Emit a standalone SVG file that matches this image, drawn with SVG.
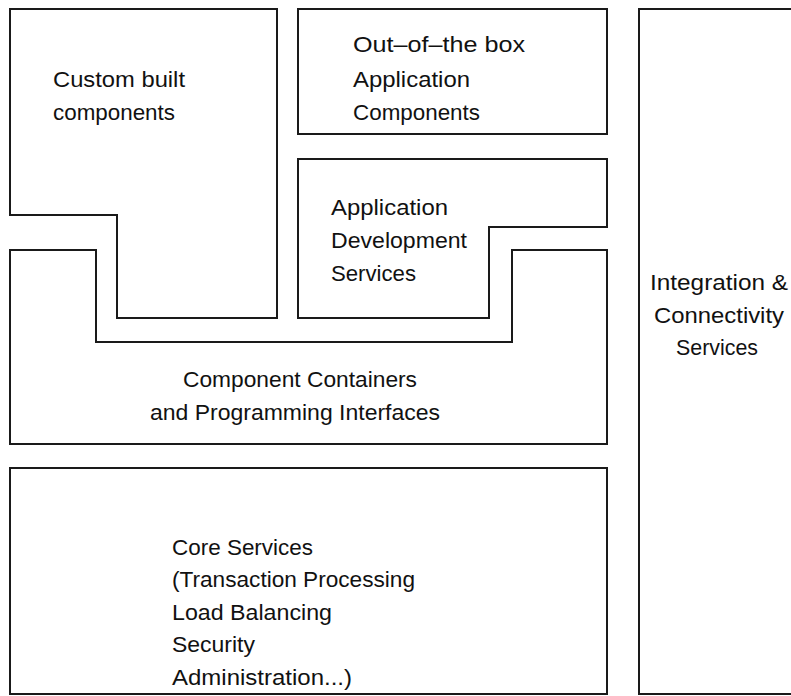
<svg xmlns="http://www.w3.org/2000/svg" width="791" height="696" viewBox="0 0 791 696">
<style>
.box{fill:none;stroke:#1a1a1a;stroke-width:2;stroke-linejoin:miter}
.t{font-family:"Liberation Sans",Arial,sans-serif;font-size:22px;fill:#111}
</style>
<rect width="791" height="696" fill="#fff"/>
<g id="custom-built">
<polygon class="box" points="10,9 277,9 277,318 117,318 117,215 10,215"/>
<text class="t" x="53" y="87" textLength="132" lengthAdjust="spacingAndGlyphs">Custom built</text>
<text class="t" x="53" y="120" textLength="122" lengthAdjust="spacingAndGlyphs">components</text>
</g>
<g id="out-of-the-box">
<rect class="box" x="298" y="9" width="309" height="125"/>
<text class="t" x="353" y="52" textLength="172" lengthAdjust="spacingAndGlyphs">Out–of–the box</text>
<text class="t" x="353" y="87" textLength="117" lengthAdjust="spacingAndGlyphs">Application</text>
<text class="t" x="353" y="120" textLength="127" lengthAdjust="spacingAndGlyphs">Components</text>
</g>
<g id="app-dev">
<polygon class="box" points="298,159 607,159 607,227 489,227 489,318 298,318"/>
<text class="t" x="331" y="215" textLength="117" lengthAdjust="spacingAndGlyphs">Application</text>
<text class="t" x="331" y="248" textLength="136" lengthAdjust="spacingAndGlyphs">Development</text>
<text class="t" x="331" y="281" textLength="85" lengthAdjust="spacingAndGlyphs">Services</text>
</g>
<g id="containers">
<polygon class="box" points="10,250 96,250 96,342 512,342 512,250 607,250 607,444 10,444"/>
<text class="t" x="183" y="387" textLength="234" lengthAdjust="spacingAndGlyphs">Component Containers</text>
<text class="t" x="150" y="420" textLength="290" lengthAdjust="spacingAndGlyphs">and Programming Interfaces</text>
</g>
<g id="core">
<rect class="box" x="10" y="468" width="597" height="226"/>
<text class="t" x="172" y="555" textLength="141" lengthAdjust="spacingAndGlyphs">Core Services</text>
<text class="t" x="172" y="587" textLength="243" lengthAdjust="spacingAndGlyphs">(Transaction Processing</text>
<text class="t" x="172" y="620" textLength="160" lengthAdjust="spacingAndGlyphs">Load Balancing</text>
<text class="t" x="172" y="652" textLength="83" lengthAdjust="spacingAndGlyphs">Security</text>
<text class="t" x="172" y="685" textLength="180" lengthAdjust="spacingAndGlyphs">Administration...)</text>
</g>
<g id="integration">
<rect class="box" x="639" y="9" width="200" height="685"/>
<text class="t" x="650" y="290" textLength="138" lengthAdjust="spacingAndGlyphs">Integration &amp;</text>
<text class="t" x="654" y="323" textLength="130" lengthAdjust="spacingAndGlyphs">Connectivity</text>
<text class="t" x="676" y="355" textLength="82" lengthAdjust="spacingAndGlyphs">Services</text>
</g>
<g id="connectors"/>
</svg>
